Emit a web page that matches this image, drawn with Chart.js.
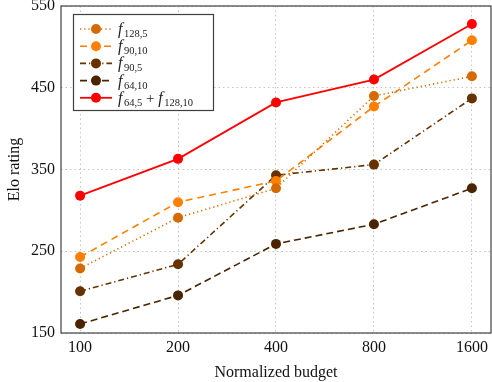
<!DOCTYPE html>
<html>
<head>
<meta charset="utf-8">
<script src="https://cdn.jsdelivr.net/npm/chart.js@4.4.0/dist/chart.umd.min.js"></script>
<style>
  html, body { margin: 0; padding: 0; background: #fff; }
  #wrap { width: 492px; height: 382px; }
</style>
</head>
<body>
<div id="wrap"><canvas id="elo"></canvas></div>
<script>
// data
const budgets = ['100', '200', '400', '800', '1600'];
const yTicks = [150, 250, 350, 450, 550];

const f128_5 = [229, 291, 327, 440, 464];
const f90_10 = [243, 310, 336, 427, 508];
const f90_5 = [201, 234, 343, 356, 437];
const f64_10 = [161, 196, 259, 283, 327];
const combo = [318, 363, 432, 460, 528];

// legend names: [base, subscript] pieces
const names = [
  [['f', '128,5']],
  [['f', '90,10']],
  [['f', '90,5']],
  [['f', '64,10']],
  [['f', '64,5'], ['f', '128,10']]
];

const serif = '"Liberation Serif", "DejaVu Serif", serif';

function series(label, values, color, dash, width) {
  return {
    label: label,
    data: values.map((v, i) => ({ x: i, y: v })),
    borderColor: color,
    backgroundColor: color,
    borderWidth: width,
    borderDash: dash,
    pointRadius: 5,
    pointHoverRadius: 5,
    pointBorderWidth: 0,
    tension: 0
  };
}

const datasets = [
  series('f128,5', f128_5, '#d46a00', [1.2, 3], 1.6),
  series('f90,10', f90_10, '#ff8000', [7, 5], 1.6),
  series('f90,5', f90_5, '#663300', [6, 3, 1.2, 3], 1.6),
  series('f64,10', f64_10, '#4a2400', [7, 4], 1.6),
  series('f64,5+f128,10', combo, '#ff0000', [], 1.8)
];

// frame around the plot + math-ish legend
const framePlugin = {
  id: 'frame',
  afterDraw(chart) {
    const c = chart.ctx, a = chart.chartArea;
    c.save();
    c.strokeStyle = '#404040';
    c.lineWidth = 1.2;
    c.setLineDash([]);
    c.strokeRect(a.left, a.top, a.right - a.left, a.bottom - a.top);

    // legend box
    const bx = 73, by = 14, bw = 140, bh = 96;
    c.fillStyle = '#fff';
    c.fillRect(bx, by, bw, bh);
    c.strokeStyle = '#404040';
    c.strokeRect(bx + 0.5, by + 0.5, bw, bh);

    chart.data.datasets.forEach((ds, i) => {
      const y = by + 15 + i * 17.2;
      c.strokeStyle = ds.borderColor;
      c.lineWidth = ds.borderWidth;
      c.setLineDash(ds.borderDash);
      c.beginPath();
      c.moveTo(80, y);
      c.lineTo(112, y);
      c.stroke();
      c.setLineDash([]);
      c.fillStyle = ds.backgroundColor;
      c.beginPath();
      c.arc(96, y, 5, 0, Math.PI * 2);
      c.fill();

      let x = 118;
      c.fillStyle = '#222';
      c.textBaseline = 'alphabetic';
      names[i].forEach((part, k) => {
        if (k > 0) {
          c.font = '15px ' + serif;
          c.fillText(' + ', x, y + 5);
          x += c.measureText(' + ').width;
        }
        c.font = 'italic 16px ' + serif;
        c.fillText(part[0], x, y + 5);
        x += c.measureText(part[0]).width + 1.5;
        c.font = '10.5px ' + serif;
        c.fillText(part[1], x, y + 8);
        x += c.measureText(part[1]).width;
      });
    });
    c.restore();
  }
};

new Chart(document.getElementById('elo'), {
  type: 'line',
  data: { datasets: datasets },
  options: {
    responsive: true,
    maintainAspectRatio: false,
    animation: false,
    layout: { autoPadding: false, padding: { top: 6, right: 1, left: 0, bottom: 0 } },
    plugins: {
      legend: { display: false },
      tooltip: { enabled: false }
    },
    scales: {
      x: {
        type: 'linear',
        min: -0.195,
        max: 4.195,
        afterBuildTicks: scale => { scale.ticks = budgets.map((b, i) => ({ value: i })); },
        afterFit: scale => {
          scale.height = 49;
          scale.paddingLeft = 0;
          scale.paddingRight = 0;
        },
        ticks: {
          callback: v => budgets[v],
          color: '#111',
          font: { family: serif, size: 16 },
          padding: 5
        },
        grid: { color: '#c4c4c4', drawTicks: false, lineWidth: 1 },
        border: { display: false, dash: [1.5, 3] },
        title: {
          display: true,
          text: 'Normalized budget',
          color: '#111',
          font: { family: serif, size: 16 },
          padding: { top: 5, bottom: 0 }
        }
      },
      y: {
        min: 150,
        max: 550,
        afterBuildTicks: scale => { scale.ticks = yTicks.map(v => ({ value: v })); },
        afterFit: scale => {
          scale.width = 61;
          scale.paddingTop = 0;
          scale.paddingBottom = 0;
        },
        ticks: {
          color: '#111',
          font: { family: serif, size: 16 },
          padding: 6
        },
        grid: { color: '#c4c4c4', drawTicks: false, lineWidth: 1 },
        border: { display: false, dash: [1.5, 3] },
        title: {
          display: true,
          text: 'Elo rating',
          color: '#111',
          font: { family: serif, size: 16 },
          padding: { top: 5, bottom: 0 }
        }
      }
    }
  },
  plugins: [framePlugin]
});
</script>
</body>
</html>
